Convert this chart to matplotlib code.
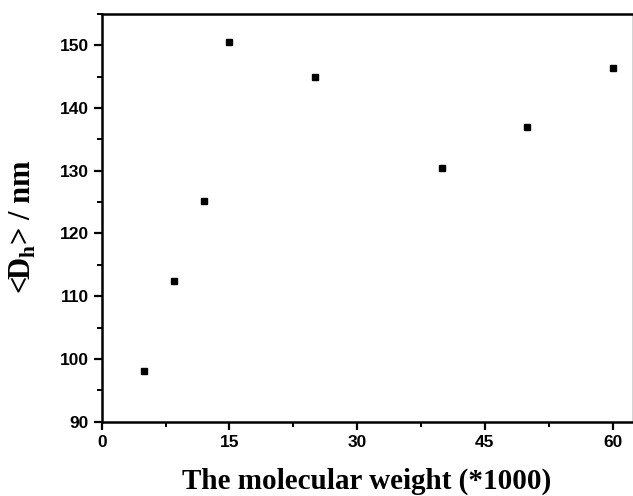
import matplotlib

matplotlib.use("Agg")
import matplotlib.pyplot as plt
from matplotlib.ticker import MultipleLocator

# molecular weight (*1000) and mean hydrodynamic diameter
mol_weight = [5, 8.5, 12, 15, 25, 40, 50, 60]
dh_nm = [98.1, 112.4, 125.2, 150.5, 144.9, 130.4, 137.0, 146.3]

x_ticks = [0, 15, 30, 45, 60]
y_ticks = [90, 100, 110, 120, 130, 140, 150]

plt.rcParams["mathtext.fontset"] = "custom"
plt.rcParams["mathtext.rm"] = "Liberation Serif"
plt.rcParams["mathtext.bf"] = "Liberation Serif:bold"

fig = plt.figure(figsize=(6.33, 4.96), dpi=100)
ax = fig.add_axes([0.1607, 0.150, 0.838, 0.822])

ax.plot(mol_weight, dh_nm, linestyle="none", marker="s", markersize=5, color="black")

ax.set_xlim(0, 62.3)
ax.set_ylim(90, 155)
ax.set_xticks(x_ticks)
ax.set_yticks(y_ticks)
ax.xaxis.set_minor_locator(MultipleLocator(7.5))
ax.yaxis.set_minor_locator(MultipleLocator(5))

for side in ("left", "bottom", "top", "right"):
    ax.spines[side].set_linewidth(1.8)
ax.spines["right"].set_linewidth(0.6)
ax.spines["right"].set_color("#cccccc")

ax.tick_params(which="major", direction="out", length=5.5, width=1.6, pad=4,
               top=False, right=False)
ax.tick_params(which="minor", direction="out", length=3.5, width=1.4,
               top=False, right=False)
for lab in ax.get_xticklabels() + ax.get_yticklabels():
    lab.set_fontfamily("Liberation Sans")
    lab.set_fontweight("bold")
    lab.set_fontsize(12.5)

ax.set_xlabel("The molecular weight (*1000)", fontfamily="Liberation Serif",
              fontweight="bold", fontsize=21, labelpad=13)
ax.set_ylabel(r"<D$_{\mathbf{h}}$> / nm", fontfamily="Liberation Serif",
              fontweight="bold", fontsize=22)
ax.yaxis.set_label_coords(-0.12, 0.478)

fig.savefig("out.png", dpi=100)
